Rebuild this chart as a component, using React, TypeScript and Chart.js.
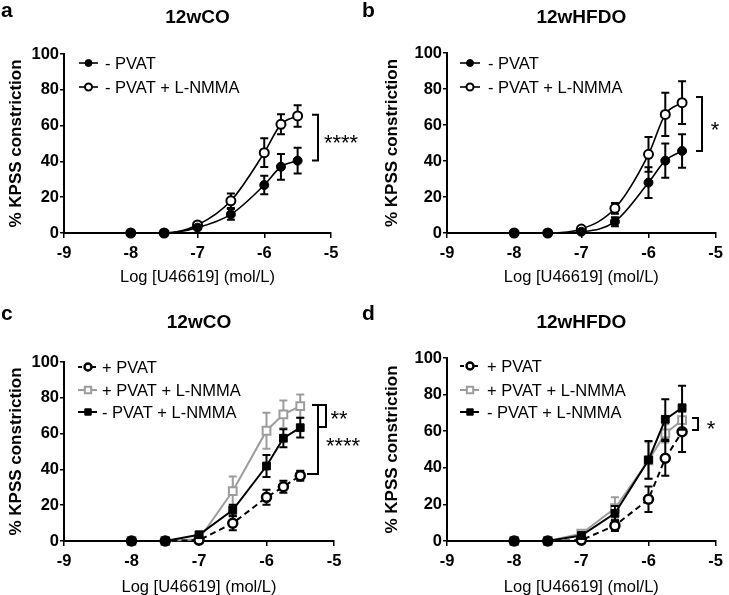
import React, { useEffect, useRef } from 'react';
import { Chart, registerables } from 'chart.js';

Chart.register(...registerables);

const FONT = '"Liberation Sans", Arial, Helvetica, sans-serif';

// ---------- shared axes / labels ----------
const doses = [-8, -7.5, -7, -6.5, -6, -5.75, -5.5];
const xTickValues = [-9, -8, -7, -6, -5];
const xTickLabels = ['-9', '-8', '-7', '-6', '-5'];
const yTickValues = [0, 20, 40, 60, 80, 100];
const yTickLabels = ['0', '20', '40', '60', '80', '100'];
const xAxisTitle = 'Log [U46619] (mol/L)';
const yAxisTitle = '% KPSS constriction';
const panelLetters = ['a', 'b', 'c', 'd'];
const panelTitles = ['12wCO', '12wHFDO', '12wCO', '12wHFDO'];

const labelNoPvat = '- PVAT';
const labelNoPvatLnmma = '- PVAT + L-NMMA';
const labelPvat = '+ PVAT';
const labelPvatLnmma = '+ PVAT + L-NMMA';

// ---------- panel a (12wCO) ----------
const aNoPvat = [0, 0, 3, 10.4, 26.8, 37, 40.4];
const aNoPvatSem = [0, 0, 0.8, 3, 5.2, 7.2, 7.2];
const aNoPvatLnmma = [0, 0, 4.5, 18, 44.9, 60.7, 65.4];
const aNoPvatLnmmaSem = [0, 0, 1, 4, 8, 5.6, 6];

// ---------- panel b (12wHFDO) ----------
const bNoPvat = [0, 0, 0.7, 6.3, 28, 40.2, 45.6];
const bNoPvatSem = [0, 0, 0.5, 2.5, 8.5, 9.5, 9.3];
const bNoPvatLnmma = [0, 0, 2.2, 13.7, 43.7, 65.9, 72.4];
const bNoPvatLnmmaSem = [0, 0, 1, 3, 9.7, 12, 11.9];

// ---------- panel c (12wCO) ----------
const cPvat = [0, 0, 0.5, 9.9, 24.4, 30.3, 36.5];
const cPvatSem = [0, 0, 0.5, 3.9, 4.2, 3.4, 2.8];
const cPvatLnmma = [0, 0, 1, 27.9, 61.6, 70.8, 75.4];
const cPvatLnmmaSem = [0, 0, 0.5, 8.2, 10, 7.7, 6.5];
const cNoPvatLnmma = [0, 0, 3.5, 17.3, 41.9, 57.4, 63.3];
const cNoPvatLnmmaSem = [0, 0, 0.5, 3, 6.2, 5, 5.5];

// ---------- panel d (12wHFDO) ----------
const dPvat = [0, 0, 0.5, 8.4, 22.8, 45.2, 59.7];
const dPvatSem = [0, 0, 0.5, 3, 7, 9.5, 11];
const dPvatLnmma = [0, 0, 4, 17.9, 44, 58.8, 66];
const dPvatLnmmaSem = [0, 0, 0.5, 6, 10, 5, 8];
const dNoPvatLnmma = [0, 0, 3, 15.1, 44.3, 66.5, 72.8];
const dNoPvatLnmmaSem = [0, 0, 0.5, 4, 10.3, 11, 12];

// ---------- significance annotations ----------
const aStars = '****';
const bStars = '*';
const cStarsInner = '**';
const cStarsOuter = '****';
const dStars = '*';

// ---------- styles ----------
const STYLES: any = {
  filledCircle: { shape: 'circle', color: '#000', fill: '#000', dash: [], lineWidth: 1.6, radius: 4.5, borderWidth: 1, legendRadius: 3.5 },
  openCircle: { shape: 'circle', color: '#000', fill: '#fff', dash: [], lineWidth: 1.6, radius: 4.5, borderWidth: 2, legendRadius: 3.5 },
  openCircleDashed: { shape: 'circle', color: '#000', fill: '#fff', dash: [6, 4], lineWidth: 2, radius: 4.5, borderWidth: 2.5, legendRadius: 3.5 },
  graySquare: { shape: 'rect', color: '#9c9c9c', fill: '#fff', dash: [], lineWidth: 2, radius: 5.5, borderWidth: 2, legendRadius: 4.5 },
  blackSquare: { shape: 'rect', color: '#000', fill: '#000', dash: [], lineWidth: 2, radius: 5.5, borderWidth: 1, legendRadius: 4.5 },
};

const PANELS: any[] = [
  {
    left: 0, top: 0, w: 364, h: 295,
    pad: { left: 0, right: 33, top: 54, bottom: 4 }, yw: 64, xh: 58,
    letter: panelLetters[0], letterX: 1, letterY: 17, title: panelTitles[0], titleY: 18,
    smooth: true,
    series: [
      { label: labelNoPvat, values: aNoPvat, sem: aNoPvatSem, kind: 'filledCircle', order: 1 },
      { label: labelNoPvatLnmma, values: aNoPvatLnmma, sem: aNoPvatLnmmaSem, kind: 'openCircle', order: 2 },
    ],
    legend: { x1: 79, x2: 98, mx: 88.5, tx: 105, rows: [63, 87] },
    brackets: [{ x: 318, tickTop: 312, tickBot: 312, top: 66, bottom: 40.5 }],
    stars: [{ text: aStars, x: 341, value: 53.2 }],
  },
  {
    left: 360, top: 0, w: 369, h: 295,
    pad: { left: 16, right: 11, top: 53, bottom: 4 }, yw: 71, xh: 58,
    letter: panelLetters[1], letterX: 2, letterY: 17, title: panelTitles[1], titleY: 18,
    smooth: true,
    series: [
      { label: labelNoPvat, values: bNoPvat, sem: bNoPvatSem, kind: 'filledCircle', order: 1 },
      { label: labelNoPvatLnmma, values: bNoPvatLnmma, sem: bNoPvatLnmmaSem, kind: 'openCircle', order: 2 },
    ],
    legend: { x1: 100, x2: 120, mx: 110, tx: 128, rows: [63, 87] },
    brackets: [{ x: 342, tickTop: 336, tickBot: 336, top: 75.5, bottom: 45.5 }],
    stars: [{ text: bStars, x: 355, value: 60.5 }],
  },
  {
    left: 0, top: 295, w: 364, h: 306,
    pad: { left: 0, right: 30, top: 67, bottom: 0 }, yw: 64, xh: 60,
    letter: panelLetters[2], letterX: 1, letterY: 25, title: panelTitles[2], titleY: 28,
    smooth: false,
    series: [
      { label: labelPvat, values: cPvat, sem: cPvatSem, kind: 'openCircleDashed', order: 2 },
      { label: labelPvatLnmma, values: cPvatLnmma, sem: cPvatLnmmaSem, kind: 'graySquare', order: 3 },
      { label: labelNoPvatLnmma, values: cNoPvatLnmma, sem: cNoPvatLnmmaSem, kind: 'blackSquare', order: 1 },
    ],
    legend: { x1: 78, x2: 97, mx: 88, tx: 102, rows: [72, 95, 117] },
    brackets: [
      { x: 318, tickTop: 312, tickBot: 307, top: 76, bottom: 37.4 },
      { x: 326, tickTop: 318, tickBot: 318, top: 76, bottom: 63.7 },
    ],
    stars: [
      { text: cStarsInner, x: 339, value: 71.5 },
      { text: cStarsOuter, x: 343, value: 55.9 },
    ],
  },
  {
    left: 360, top: 295, w: 369, h: 306,
    pad: { left: 16, right: 10, top: 63, bottom: 0 }, yw: 71, xh: 60,
    letter: panelLetters[3], letterX: 2, letterY: 25, title: panelTitles[3], titleY: 28,
    smooth: false,
    series: [
      { label: labelPvat, values: dPvat, sem: dPvatSem, kind: 'openCircleDashed', order: 2 },
      { label: labelPvatLnmma, values: dPvatLnmma, sem: dPvatLnmmaSem, kind: 'graySquare', order: 3 },
      { label: labelNoPvatLnmma, values: dNoPvatLnmma, sem: dNoPvatLnmmaSem, kind: 'blackSquare', order: 1 },
    ],
    legend: { x1: 100, x2: 119, mx: 110, tx: 127, rows: [71, 95, 117] },
    brackets: [{ x: 338, tickTop: 332, tickBot: 332, top: 67.2, bottom: 60.7 }],
    stars: [{ text: dStars, x: 351, value: 64 }],
  },
];

function drawMarker(ctx: CanvasRenderingContext2D, st: any, x: number, y: number, r: number) {
  ctx.save();
  ctx.setLineDash([]);
  ctx.lineWidth = st.borderWidth;
  ctx.strokeStyle = st.color;
  ctx.fillStyle = st.fill;
  ctx.beginPath();
  if (st.shape === 'circle') {
    ctx.arc(x, y, r, 0, Math.PI * 2);
  } else {
    const s = r * Math.SQRT1_2;
    ctx.rect(x - s, y - s, 2 * s, 2 * s);
  }
  ctx.fill();
  ctx.stroke();
  ctx.restore();
}

function Panel({ cfg }: { cfg: any }) {
  const ref = useRef<HTMLCanvasElement | null>(null);

  useEffect(() => {
    const canvas = ref.current;
    if (!canvas) return;

    const datasets = cfg.series.map((s: any) => {
      const st = STYLES[s.kind];
      return {
        label: s.label,
        data: doses.map((x, i) => ({ x, y: s.values[i] })),
        sem: s.sem,
        errColor: st.color,
        order: s.order,
        clip: false,
        showLine: true,
        borderColor: st.color,
        borderWidth: st.lineWidth,
        borderDash: st.dash,
        backgroundColor: st.fill,
        fill: false,
        tension: 0,
        cubicInterpolationMode: cfg.smooth ? 'monotone' : 'default',
        pointStyle: st.shape === 'circle' ? 'circle' : 'rect',
        pointRadius: st.radius,
        pointHoverRadius: st.radius,
        pointBorderWidth: st.borderWidth,
        pointBackgroundColor: st.fill,
        pointBorderColor: st.color,
      };
    });

    const decor = {
      id: 'decor',
      beforeDatasetDraw(chart: any, args: any) {
        const ds = chart.data.datasets[args.index];
        const ys = chart.scales.y;
        const ctx = chart.ctx;
        ctx.save();
        ctx.strokeStyle = ds.errColor;
        ctx.lineWidth = 2;
        ctx.setLineDash([]);
        args.meta.data.forEach((pt: any, i: number) => {
          const e = ds.sem[i];
          if (!e) return;
          const v = ds.data[i].y;
          const yt = ys.getPixelForValue(v + e);
          const yb = ys.getPixelForValue(v - e);
          const x = pt.x;
          ctx.beginPath();
          ctx.moveTo(x, yt);
          ctx.lineTo(x, yb);
          ctx.moveTo(x - 4, yt);
          ctx.lineTo(x + 4, yt);
          ctx.moveTo(x - 4, yb);
          ctx.lineTo(x + 4, yb);
          ctx.stroke();
        });
        ctx.restore();
      },
      afterDraw(chart: any) {
        const ctx = chart.ctx;
        const ca = chart.chartArea;
        const ys = chart.scales.y;
        ctx.save();
        ctx.fillStyle = '#000';
        ctx.font = `bold 21px ${FONT}`;
        ctx.textAlign = 'left';
        ctx.textBaseline = 'alphabetic';
        ctx.fillText(cfg.letter, cfg.letterX, cfg.letterY);

        ctx.font = `bold 19px ${FONT}`;
        ctx.textAlign = 'center';
        ctx.textBaseline = 'middle';
        ctx.fillText(cfg.title, (ca.left + ca.right) / 2, cfg.titleY);

        cfg.series.forEach((s: any, i: number) => {
          const st = STYLES[s.kind];
          const y = cfg.legend.rows[i];
          ctx.save();
          ctx.strokeStyle = st.color;
          ctx.lineWidth = st.lineWidth;
          ctx.setLineDash(st.dash.length ? [4, 3] : []);
          ctx.beginPath();
          ctx.moveTo(cfg.legend.x1, y);
          ctx.lineTo(cfg.legend.x2, y);
          ctx.stroke();
          ctx.restore();
          drawMarker(ctx, st, cfg.legend.mx, y, st.legendRadius);
          ctx.fillStyle = '#000';
          ctx.font = `16.5px ${FONT}`;
          ctx.textAlign = 'left';
          ctx.textBaseline = 'middle';
          ctx.fillText(s.label, cfg.legend.tx, y + 1);
        });

        ctx.strokeStyle = '#000';
        ctx.lineWidth = 2;
        ctx.setLineDash([]);
        cfg.brackets.forEach((b: any) => {
          const yt = ys.getPixelForValue(b.top);
          const yb = ys.getPixelForValue(b.bottom);
          ctx.beginPath();
          ctx.moveTo(b.tickTop, yt);
          ctx.lineTo(b.x, yt);
          ctx.lineTo(b.x, yb);
          ctx.lineTo(b.tickBot, yb);
          ctx.stroke();
        });

        ctx.fillStyle = '#000';
        ctx.font = `22px ${FONT}`;
        ctx.textAlign = 'center';
        ctx.textBaseline = 'alphabetic';
        cfg.stars.forEach((s: any) => {
          ctx.fillText(s.text, s.x, ys.getPixelForValue(s.value) + 12.5);
        });
        ctx.restore();
      },
    };

    const tickFont = { family: FONT, size: 16.5, weight: 'bold' as const };

    const chart = new Chart(canvas, {
      type: 'line',
      data: { datasets },
      options: {
        animation: false,
        responsive: false,
        maintainAspectRatio: false,
        events: [],
        layout: { padding: cfg.pad },
        plugins: {
          legend: { display: false },
          title: { display: false },
          tooltip: { enabled: false },
        },
        scales: {
          x: {
            type: 'linear',
            min: -9,
            max: -5,
            afterFit: (s: any) => { s.height = cfg.xh; },
            ticks: {
              stepSize: 1,
              color: '#000',
              font: tickFont,
              padding: 6,
              maxRotation: 0,
              autoSkip: false,
              callback: (v: any) => {
                const i = xTickValues.indexOf(Number(v));
                return i >= 0 ? xTickLabels[i] : '';
              },
            },
            grid: { drawOnChartArea: false, drawTicks: true, tickLength: 5, color: '#000', lineWidth: 1.5 },
            border: { display: true, color: '#000', width: 2 },
            title: {
              display: true,
              text: xAxisTitle,
              color: '#000',
              font: { family: FONT, size: 16.5, weight: 'normal' },
              padding: { top: 4, bottom: 4 },
            },
          },
          y: {
            type: 'linear',
            min: 0,
            max: 100,
            afterFit: (s: any) => { s.width = cfg.yw; },
            ticks: {
              stepSize: 20,
              color: '#000',
              font: tickFont,
              padding: 1,
              autoSkip: false,
              callback: (v: any) => {
                const i = yTickValues.indexOf(Number(v));
                return i >= 0 ? yTickLabels[i] : '';
              },
            },
            grid: { drawOnChartArea: false, drawTicks: true, tickLength: 4, color: '#000', lineWidth: 1.5 },
            border: { display: true, color: '#000', width: 2 },
            title: {
              display: true,
              text: yAxisTitle,
              color: '#000',
              font: { family: FONT, size: 17, weight: 'bold' },
              padding: { top: 6, bottom: 0 },
            },
          },
        },
      } as any,
      plugins: [decor],
    });

    return () => chart.destroy();
  }, [cfg]);

  return (
    <canvas
      ref={ref}
      width={cfg.w}
      height={cfg.h}
      style={{ position: 'absolute', left: cfg.left, top: cfg.top, width: cfg.w, height: cfg.h, display: 'block' }}
    />
  );
}

export default function App() {
  return (
    <div
      style={{
        position: 'fixed',
        left: 0,
        top: 0,
        width: 729,
        height: 595,
        overflow: 'hidden',
        background: '#fff',
      }}
    >
      {PANELS.map((p) => (
        <Panel key={p.letter} cfg={p} />
      ))}
    </div>
  );
}
